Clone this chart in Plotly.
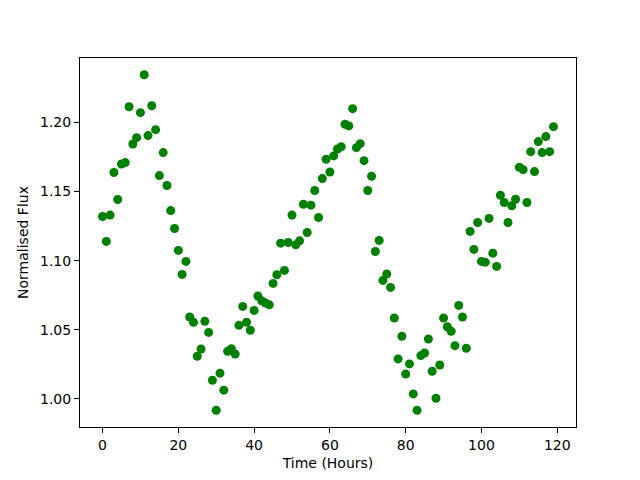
import plotly.graph_objects as go

hours = list(range(120))
flux = [
    1.1319, 1.1139, 1.1329, 1.1637, 1.1442, 1.1699, 1.1709, 1.2113, 1.1843, 1.1889,
    1.2070, 1.2344, 1.1904, 1.2120, 1.1947, 1.1615, 1.1781, 1.1543, 1.1362, 1.1232,
    1.1074, 1.0900, 1.0994, 1.0592, 1.0554, 1.0308, 1.0361, 1.0561, 1.0481, 1.0135,
    0.9918, 1.0186, 1.0063, 1.0344, 1.0363, 1.0325, 1.0532, 1.0669, 1.0554, 1.0496,
    1.0640, 1.0744, 1.0710, 1.0693, 1.0680, 1.0835, 1.0898, 1.1126, 1.0929, 1.1131,
    1.1329, 1.1114, 1.1143, 1.1408, 1.1203, 1.1401, 1.1507, 1.1312, 1.1593, 1.1733,
    1.1641, 1.1757, 1.1807, 1.1824, 1.1986, 1.1974, 1.2099, 1.1817, 1.1846, 1.1723,
    1.1507, 1.1610, 1.1066, 1.1146, 1.0857, 1.0903, 1.0806, 1.0585, 1.0289, 1.0453,
    1.0180, 1.0253, 1.0036, 0.9918, 1.0313, 1.0332, 1.0433, 1.0200, 1.0005, 1.0245,
    1.0585, 1.0522, 1.0489, 1.0385, 1.0676, 1.0592, 1.0366, 1.1211, 1.1081, 1.1276,
    1.0994, 1.0989, 1.1305, 1.1054, 1.0958, 1.1473, 1.1420, 1.1276, 1.1396, 1.1444,
    1.1675, 1.1658, 1.1420, 1.1788, 1.1644, 1.1861, 1.1781, 1.1897, 1.1788, 1.1969,
]
x_ticks = [0, 20, 40, 60, 80, 100, 120]
y_ticks = [1.00, 1.05, 1.10, 1.15, 1.20]
y_tick_labels = ["1.00", "1.05", "1.10", "1.15", "1.20"]

xmin, xmax = min(hours), max(hours)
ymin, ymax = min(flux), max(flux)
xpad = 0.05 * (xmax - xmin)
ypad = 0.05 * (ymax - ymin)

fig = go.Figure()
fig.add_trace(go.Scatter(
    x=hours, y=flux, mode="markers",
    marker=dict(color="#008000", size=9, line=dict(width=0)),
    showlegend=False,
))

font = dict(family="DejaVu Sans", size=14, color="black")
axis_common = dict(
    showline=True, linecolor="black", linewidth=1, mirror=True,
    ticks="outside", ticklen=5, tickwidth=1, tickcolor="black",
    showgrid=False, zeroline=False, tickfont=font,
)
fig.update_layout(
    width=632, height=472,
    margin=dict(l=72, r=64, t=50, b=53, autoexpand=False),
    paper_bgcolor="white", plot_bgcolor="white",
    font=font,
    xaxis=dict(range=[xmin - xpad, xmax + xpad], tickvals=x_ticks,
               title=dict(text="Time (Hours)", font=font, standoff=6), **axis_common),
    yaxis=dict(range=[ymin - ypad, ymax + ypad], tickvals=y_ticks, ticktext=y_tick_labels,
               title=dict(text="Normalised Flux", font=font, standoff=8), **axis_common),
)
fig.write_html("out.html")
